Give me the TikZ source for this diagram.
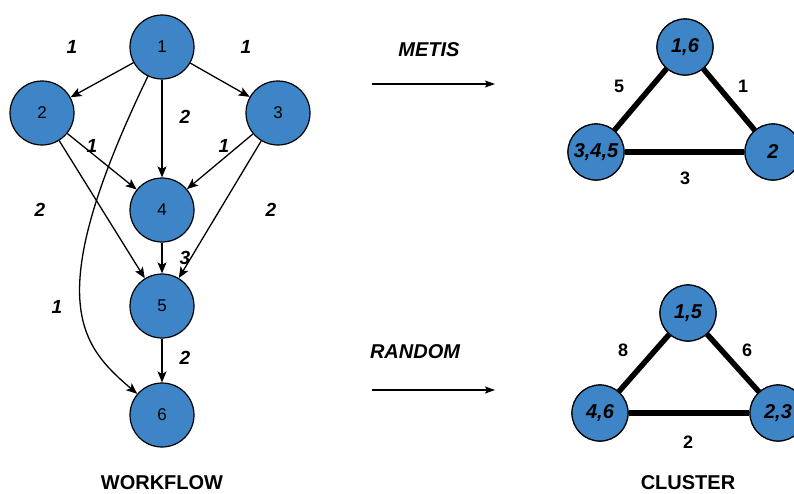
\documentclass[tikz,border=0pt]{standalone}
\usepackage{fontspec}
\setmainfont{Liberation Sans}
\usetikzlibrary{arrows.meta}
\definecolor{nodeblue}{HTML}{3D85C6}
\tikzset{
  wnode/.style={circle,draw=black,line width=1.2pt,fill=nodeblue,minimum size=64pt,inner sep=0pt,font=\fontsize{17}{20}\selectfont},
  cnode/.style={circle,draw=black,line width=1.2pt,fill=nodeblue,minimum size=56pt,inner sep=0pt,font=\fontsize{20}{24}\selectfont\bfseries\itshape},
  wedge/.style={line width=1.3pt,-{Stealth[length=11pt,width=9pt,inset=2.5pt]}},
  tedge/.style={line width=5.5pt},
  wlab/.style={font=\fontsize{19}{22}\selectfont\bfseries\itshape},
  tlab/.style={font=\fontsize{18}{22}\selectfont\bfseries},
  title/.style={font=\fontsize{20}{24}\selectfont\bfseries},
  mtitle/.style={font=\fontsize{20}{24}\selectfont\bfseries\itshape},
}
\begin{document}
\begin{tikzpicture}[x=1pt,y=-1pt]
\useasboundingbox (0,0) rectangle (794,493);
\clip (0,0) rectangle (794,493);
% workflow
\node[wnode] (n1) at (162,47) {1};
\node[wnode] (n2) at (42,113) {2};
\node[wnode] (n3) at (278,113) {3};
\node[wnode] (n4) at (162,210) {4};
\node[wnode] (n5) at (162,306) {5};
\node[wnode] (n6) at (162,415) {6};
\draw[wedge] (n1) -- (n2);
\draw[wedge] (n1) -- (n3);
\draw[wedge] (n1) -- (n4);
\draw[wedge] (n2) -- (n4);
\draw[wedge] (n3) -- (n4);
\draw[wedge] (n2) -- (n5);
\draw[wedge] (n3) -- (n5);
\draw[wedge] (n4) -- (n5);
\draw[wedge] (n5) -- (n6);
\draw[wedge] (n1) .. controls (40,300) and (80,345) .. (n6);
\node[wlab] (l12) at (72,47) {1};
\node[wlab] (l13) at (246,47) {1};
\node[wlab] (l14) at (185,117) {2};
\node[wlab] (l24) at (92,146) {1};
\node[wlab] (l34) at (224,146) {1};
\node[wlab] (l25) at (40,210) {2};
\node[wlab] (l35) at (271,210) {2};
\node[wlab] (l45) at (185,258) {3};
\node[wlab] (l16) at (57,307) {1};
\node[wlab] (l56) at (185,358) {2};
\node[title] (wf) at (162,483) {WORKFLOW};
% METIS
\node[mtitle] (metis) at (429,50) {METIS};
\coordinate (ma) at (372,84);
\coordinate (mb) at (495,84);
\draw[line width=1.2pt,-{Stealth[length=10pt,width=7pt,inset=2pt]}] (ma) -- (mb);
\node[cnode] (a16) at (685,47) {1,6};
\node[cnode] (a345) at (596,152) {3,4,5};
\node[cnode] (a2) at (773,152) {2};
\draw[tedge] (a16) -- (a345);
\draw[tedge] (a16) -- (a2);
\draw[tedge] (a345) -- (a2);
\node[cnode] at (a16) {1,6};
\node[cnode] at (a345) {3,4,5};
\node[cnode] at (a2) {2};
\node[tlab] (t5) at (619,86) {5};
\node[tlab] (t1) at (743,86) {1};
\node[tlab] (t3) at (685,178) {3};
% RANDOM
\node[mtitle] (random) at (415,352) {RANDOM};
\coordinate (ra) at (372,390);
\coordinate (rb) at (495,390);
\draw[line width=1.2pt,-{Stealth[length=10pt,width=7pt,inset=2pt]}] (ra) -- (rb);
\node[cnode] (b15) at (688,313) {1,5};
\node[cnode] (b46) at (600,413) {4,6};
\node[cnode] (b23) at (778,413) {2,3};
\draw[tedge] (b15) -- (b46);
\draw[tedge] (b15) -- (b23);
\draw[tedge] (b46) -- (b23);
\node[cnode] at (b15) {1,5};
\node[cnode] at (b46) {4,6};
\node[cnode] at (b23) {2,3};
\node[tlab] (t8) at (623,350) {8};
\node[tlab] (t6) at (747,350) {6};
\node[tlab] (t2) at (688,442) {2};
\node[title] (cl) at (688,483) {CLUSTER};
\end{tikzpicture}
\end{document}
